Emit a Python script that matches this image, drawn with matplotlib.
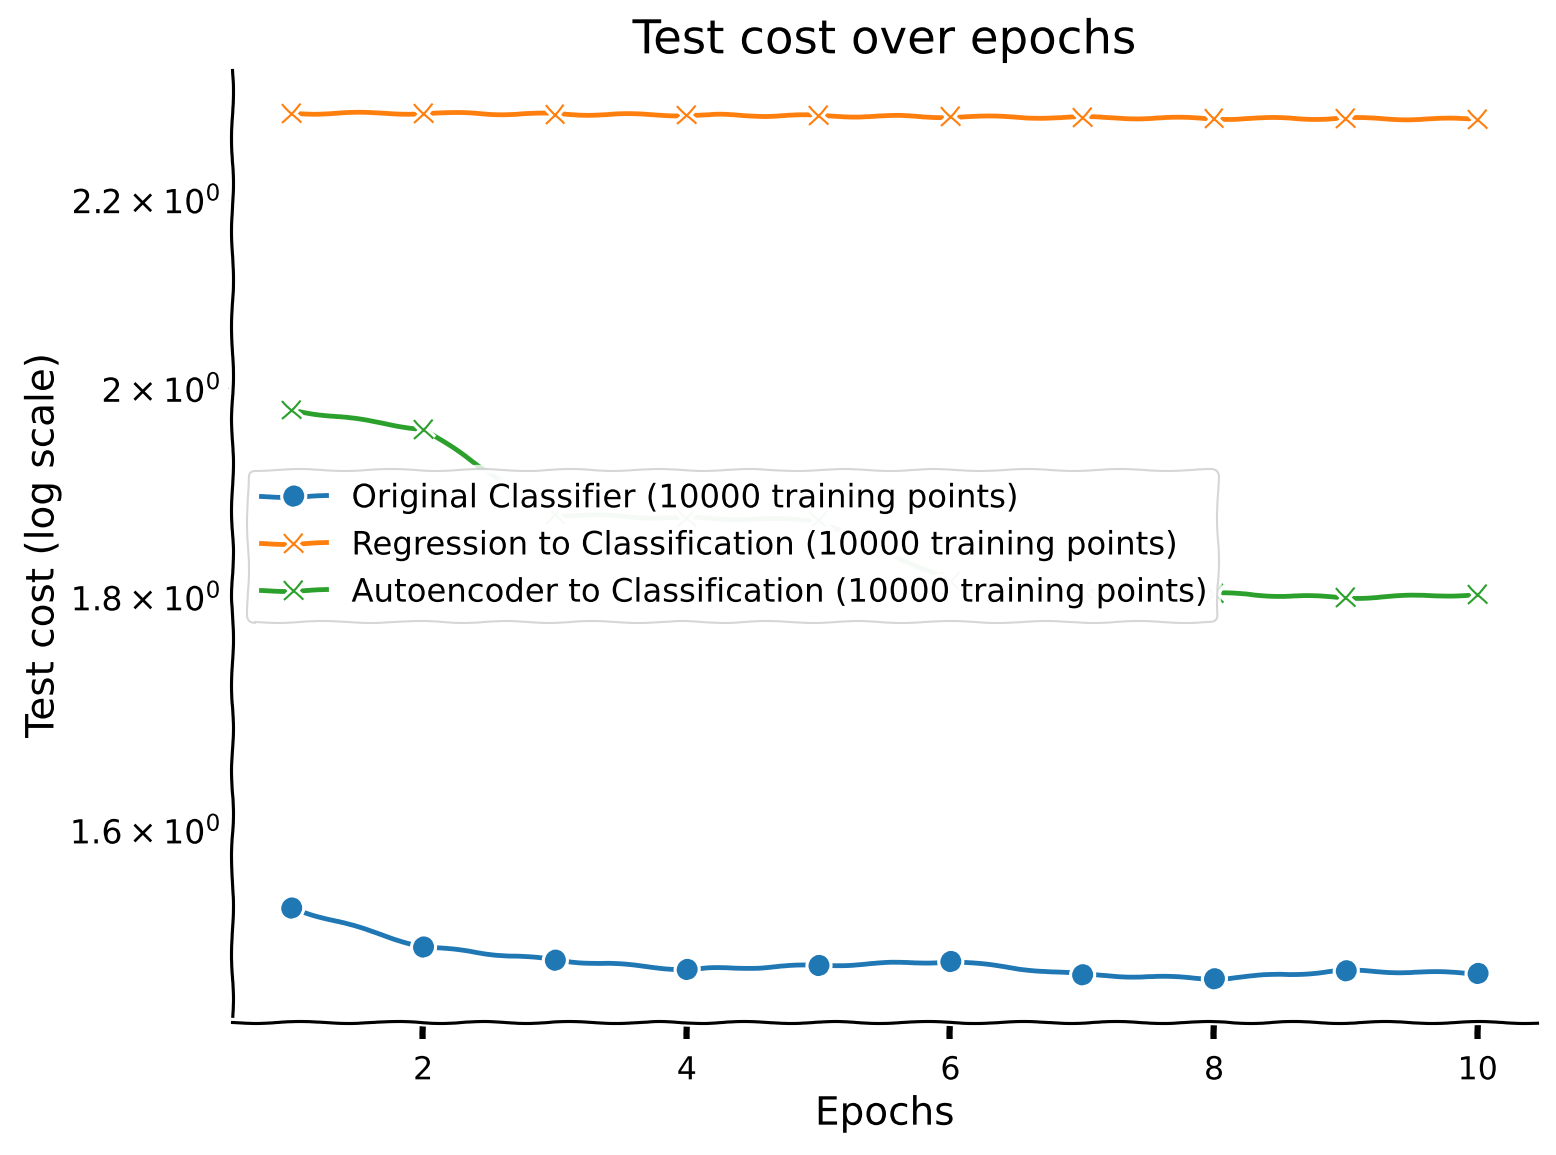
import matplotlib
matplotlib.use('Agg')
import matplotlib.pyplot as plt
from matplotlib.ticker import FixedLocator

epochs = [1, 2, 3, 4, 5, 6, 7, 8, 9, 10]
original = [1.538, 1.508, 1.498, 1.491, 1.494, 1.497, 1.487, 1.484, 1.490, 1.488]
regression = [2.298, 2.298, 2.297, 2.296, 2.295, 2.294, 2.293, 2.292, 2.292, 2.291]
autoencoder = [1.978, 1.959, 1.876, 1.873, 1.871, 1.814, 1.806, 1.803, 1.799, 1.802]
series_labels = [
    "Original Classifier (10000 training points)",
    "Regression to Classification (10000 training points)",
    "Autoencoder to Classification (10000 training points)",
]
ytick_values = [1.6, 1.8, 2.0, 2.2]

with plt.xkcd():
    plt.rcParams['font.family'] = ['DejaVu Sans']
    fig = plt.figure(figsize=(1556 / 150, 1155 / 150), dpi=150)
    ax = fig.add_axes([232 / 1556, 1 - 1022 / 1155, (1537 - 232) / 1556, (1022 - 70) / 1155])
    ax.plot(epochs, original, marker='o', markersize=9, lw=2.3, color='#1f77b4', label=series_labels[0])
    ax.plot(epochs, regression, marker='x', markersize=9, lw=2.3, color='#ff7f0e', label=series_labels[1])
    ax.plot(epochs, autoencoder, marker='x', markersize=9, lw=2.3, color='#2ca02c', label=series_labels[2])
    ax.set_yscale('log')
    ax.yaxis.set_minor_locator(FixedLocator(ytick_values))
    ax.tick_params(axis='x', which='major', labelsize=15.2, pad=8)
    ax.tick_params(axis='y', which='both', labelsize=15.9)
    ax.set_title('Test cost over epochs', fontsize=22.4, pad=8)
    ax.set_xlabel('Epochs', fontsize=18.7)
    ax.set_ylabel('Test cost (log scale)', fontsize=18.7)
    ax.spines['top'].set_visible(False)
    ax.spines['right'].set_visible(False)
    ax.legend(loc='center left', fontsize=15.5)
    fig.savefig('out.png', dpi=150)
